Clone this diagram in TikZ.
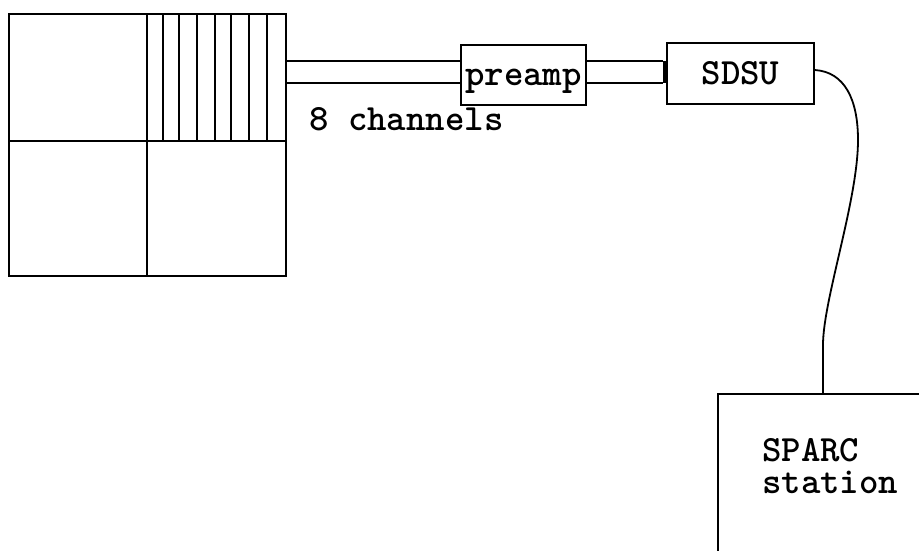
\documentclass[tikz,border=0pt]{standalone}
\usepackage{fontspec}
\newfontfamily\monofont{lmmonolt10-bold.otf}
\begin{document}
\begin{tikzpicture}[x=1pt,y=-1pt,
  ln/.style={line width=1.8pt},
  box/.style={draw,line width=1.8pt,inner sep=0pt,rectangle},
  lbl/.style={font=\monofont\fontsize{37}{32}\selectfont,inner sep=0pt}]
\clip (0,0) rectangle (919,550);
\fill[white] (0,0) rectangle (919,550);
% detector
\node[box,minimum width=277,minimum height=262,anchor=north west] (ccd) at (8,13) {};
\draw[ln] (147,13) -- (147,275);
\draw[ln] (8,141) -- (285,141);
\foreach \x in {163,179,197,215,231,249,267} \draw[ln] (\x,13) -- (\x,141);
% preamp
\node[box,lbl,minimum width=125,minimum height=60,text height=20pt,text depth=0pt] (preamp) at (523.5,75) {preamp};
% SDSU
\node[box,lbl,minimum width=147,minimum height=61,text height=21pt,text depth=0pt] (sdsu) at (740.5,73.5) {SDSU};
% SPARC
\node[box,minimum width=300,minimum height=250,anchor=north west] (sparc) at (717,393) {};
\node[lbl,anchor=base west,align=left] (sparctxt) at (762,493) {SPARC\\station};
% label
\node[lbl,anchor=base west] (chan) at (309,130) {8 channels};
% connectors
\coordinate (ya) at (0,61);
\coordinate (yb) at (0,83);
\draw[ln] (ccd.east |- ya) -- (preamp.west |- ya);
\draw[ln] (ccd.east |- yb) -- (preamp.west |- yb);
\draw[ln] (preamp.east |- ya) -- ([xshift=-3pt]sdsu.west |- ya);
\draw[ln] (preamp.east |- yb) -- ([xshift=-3pt]sdsu.west |- yb);
\draw[line width=3pt] ([xshift=-1.5pt]sdsu.west |- ya) -- ([xshift=-1.5pt]sdsu.west |- yb);
\coordinate (cs) at (0,70);
\coordinate (ce) at (823,345);
\draw[ln] (sdsu.east |- cs) .. controls (845,72) and (858,100) .. (858,140)
  .. controls (858,200) and (823,300) .. (ce) -- (ce |- sparc.north);
\end{tikzpicture}
\end{document}
